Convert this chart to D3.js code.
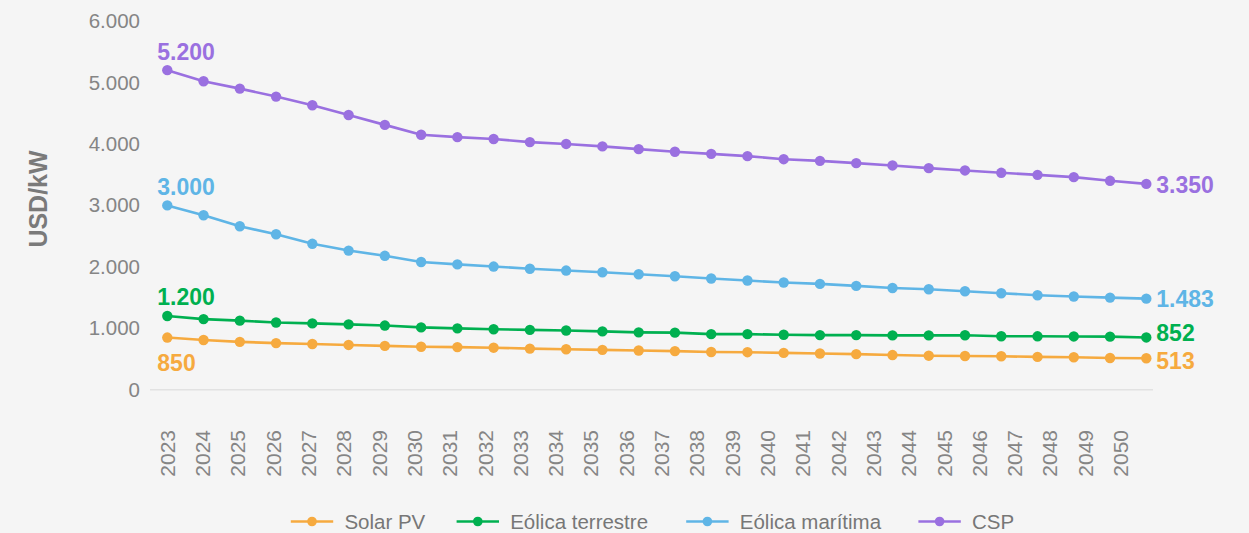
<!DOCTYPE html>
<html lang="es">
<head>
<meta charset="utf-8">
<title>Costes de inversión por tecnología (USD/kW)</title>
<script src="https://cdn.jsdelivr.net/npm/d3@7"></script>
<style>
  html, body { margin: 0; padding: 0; background: #f5f5f5; }
  svg { display: block; font-family: "Liberation Sans", Arial, Helvetica, sans-serif; }
</style>
</head>
<body>
<svg id="chart" width="1249" height="533"></svg>
<script>
// Years on the horizontal axis
const years = [2023, 2024, 2025, 2026, 2027, 2028, 2029, 2030, 2031, 2032, 2033, 2034, 2035, 2036,
               2037, 2038, 2039, 2040, 2041, 2042, 2043, 2044, 2045, 2046, 2047, 2048, 2049, 2050];

// Capital cost per technology, USD/kW
const solarPV = [850, 810, 780, 760, 745, 730, 715, 700, 695, 685, 670, 660, 650, 640,
                 630, 615, 612, 600, 590, 580, 565, 555, 550, 545, 535, 530, 518, 513];
const eolicaTerrestre = [1200, 1150, 1125, 1095, 1080, 1065, 1045, 1015, 1000, 985, 975, 965, 950, 935,
                         930, 905, 905, 895, 890, 890, 885, 885, 888, 872, 870, 868, 865, 852];
const eolicaMaritima = [3000, 2840, 2660, 2530, 2375, 2265, 2180, 2080, 2040, 2005, 1970, 1940, 1913, 1880,
                        1848, 1810, 1778, 1745, 1723, 1690, 1657, 1636, 1604, 1571, 1539, 1518, 1500, 1483];
const csp = [5200, 5020, 4900, 4770, 4630, 4470, 4310, 4150, 4110, 4080, 4030, 4000, 3960, 3915,
             3872, 3839, 3801, 3752, 3725, 3687, 3650, 3606, 3569, 3530, 3497, 3460, 3400, 3350];

// Series names and colours
const seriesNames = ["Solar PV", "Eólica terrestre", "Eólica marítima", "CSP"];
const seriesColors = ["#f6aa3f", "#00b050", "#5fb5e6", "#9a70e0"];

// Y-axis ticks
const yTicks = [0, 1000, 2000, 3000, 4000, 5000, 6000];
const yTitle = "USD/kW";

const series = [solarPV, eolicaTerrestre, eolicaMaritima, csp].map((values, i) => ({
  name: seriesNames[i], color: seriesColors[i], values
}));

const locale = d3.formatLocale({ decimal: ",", thousands: ".", grouping: [3], currency: ["", " €"] });
const fmt = locale.format(",d");

const svg = d3.select("#chart");
const FONT = '"Liberation Sans", Arial, Helvetica, sans-serif';

// Scales
const y = d3.scaleLinear().domain([0, 6000]).range([389.8, 21]);
const xPts = d3.scalePoint().domain(years).range([167.3, 1146.3]);
const xLab = d3.scalePoint().domain(years).range([166.7, 1120]);

// Zero baseline
svg.append("line")
  .attr("x1", 150).attr("x2", 1153)
  .attr("y1", y(0)).attr("y2", y(0))
  .attr("stroke", "#e2e2e2").attr("stroke-width", 1.5);

// Y axis
const yAxis = svg.append("g")
  .attr("transform", "translate(150,0)")
  .call(d3.axisLeft(y).tickValues(yTicks).tickFormat(fmt).tickSize(0).tickPadding(10));
yAxis.select(".domain").remove();
yAxis.selectAll("text")
  .attr("fill", "#858585")
  .style("font-family", FONT)
  .style("font-size", "20.5px");

// Y title
svg.append("text")
  .attr("transform", "translate(38,199) rotate(-90)")
  .attr("text-anchor", "middle")
  .attr("dy", "0.35em")
  .attr("fill", "#7a7a7a")
  .style("font-family", FONT)
  .style("font-size", "25px")
  .style("font-weight", "bold")
  .text(yTitle);

// X axis (rotated year labels)
const xAxis = svg.append("g")
  .attr("transform", "translate(0,430)")
  .call(d3.axisBottom(xLab).tickSize(0).tickPadding(0).tickFormat(d3.format("d")));
xAxis.select(".domain").remove();
xAxis.selectAll("text")
  .attr("x", 0).attr("y", 0)
  .attr("dy", "0.36em")
  .attr("text-anchor", "end")
  .attr("transform", "rotate(-90)")
  .attr("fill", "#858585")
  .style("font-family", FONT)
  .style("font-size", "21px");

// Lines and markers
const line = d3.line().x((d, i) => xPts(years[i])).y(d => y(d));

const g = svg.append("g");
series.forEach(s => {
  g.append("path")
    .datum(s.values)
    .attr("fill", "none")
    .attr("stroke", s.color)
    .attr("stroke-width", 2.6)
    .attr("stroke-linejoin", "round")
    .attr("d", line);
  g.selectAll(null)
    .data(s.values)
    .join("circle")
    .attr("cx", (d, i) => xPts(years[i]))
    .attr("cy", d => y(d))
    .attr("r", 5.2)
    .attr("fill", s.color);
});

// Value labels at both ends of each series
const startOffsets = [25, -19, -19, -18];   // vertical offset of the first-year label
const endOffsets = [2.4, -4.7, 0.3, 1];      // vertical offset of the last-year label
series.forEach((s, k) => {
  const v0 = s.values[0];
  const vN = s.values[s.values.length - 1];
  svg.append("text")
    .attr("x", xPts(years[0]) - 10)
    .attr("y", y(v0) + startOffsets[k])
    .attr("dy", "0.36em")
    .attr("fill", s.color)
    .style("font-family", FONT)
    .style("font-size", "23px")
    .style("font-weight", "bold")
    .text(fmt(v0));
  svg.append("text")
    .attr("x", xPts(years[years.length - 1]) + 10)
    .attr("y", y(vN) + endOffsets[k])
    .attr("dy", "0.36em")
    .attr("fill", s.color)
    .style("font-family", FONT)
    .style("font-size", "23px")
    .style("font-weight", "bold")
    .text(fmt(vN));
});

// Legend
const legendX = [290.8, 456.6, 686.2, 918.4];
const legend = svg.append("g").attr("transform", "translate(0,521.5)");
series.forEach((s, k) => {
  const item = legend.append("g").attr("transform", `translate(${legendX[k]},0)`);
  item.append("line")
    .attr("x1", 0).attr("x2", 42.4)
    .attr("y1", 0).attr("y2", 0)
    .attr("stroke", s.color).attr("stroke-width", 2.6);
  item.append("circle")
    .attr("cx", 21.2).attr("cy", 0).attr("r", 4.8)
    .attr("fill", s.color);
  item.append("text")
    .attr("x", 53.6)
    .attr("dy", "0.36em")
    .attr("fill", "#777")
    .style("font-family", FONT)
    .style("font-size", "20.5px")
    .text(s.name);
});
</script>
</body>
</html>
